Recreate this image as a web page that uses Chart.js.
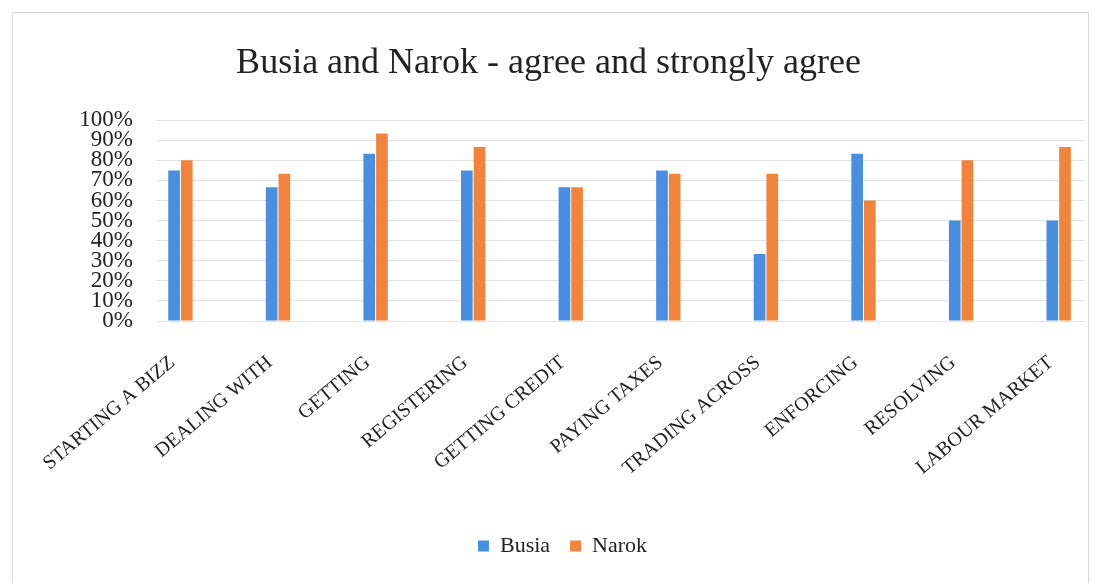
<!DOCTYPE html>
<html>
<head>
<meta charset="utf-8">
<script src="https://cdn.jsdelivr.net/npm/chart.js@4.4.1/dist/chart.umd.min.js"></script>
<style>
  html, body { margin: 0; padding: 0; background: #fff; }
  #wrap { position: relative; width: 1099px; height: 583px; overflow: hidden; }
  #frame { position: absolute; left: 12px; top: 12px; width: 1077px; height: 600px;
           border: 1px solid #d8d8d8; box-sizing: border-box; pointer-events: none; }
  canvas { position: absolute; left: 0; top: 0; }
</style>
</head>
<body>
<div id="wrap">
  <canvas id="c" width="1099" height="583"></canvas>
  <div id="frame"></div>
</div>
<script>
// Survey categories and share answering "agree" or "strongly agree"
const categories = ['STARTING A BIZZ', 'DEALING WITH', 'GETTING', 'REGISTERING', 'GETTING CREDIT',
                    'PAYING TAXES', 'TRADING ACROSS', 'ENFORCING', 'RESOLVING', 'LABOUR MARKET'];
const busia = [0.75, 0.6667, 0.8333, 0.75, 0.6667, 0.75, 0.3333, 0.8333, 0.50, 0.50];
const narok = [0.80, 0.7333, 0.9333, 0.8667, 0.6667, 0.7333, 0.7333, 0.60, 0.80, 0.8667];
const yTicks = [0, 0.1, 0.2, 0.3, 0.4, 0.5, 0.6, 0.7, 0.8, 0.9, 1.0];

const serif = "'Liberation Serif', 'Times New Roman', serif";
const toPoints = arr => arr.map((v, i) => ({ x: i, y: v }));

// Nudge the legend block a little right of centre, under the plot
const legendShift = {
  id: 'legendShift',
  afterLayout(chart) {
    const lg = chart.legend;
    if (lg) { lg.left += 14; lg.right += 14; }
  }
};

new Chart(document.getElementById('c'), {
  type: 'bar',
  data: {
    datasets: [
      { label: 'Busia', data: toPoints(busia), backgroundColor: '#4a8ee0',
        categoryPercentage: 0.26, barPercentage: 0.92 },
      { label: 'Narok', data: toPoints(narok), backgroundColor: '#f0843f',
        categoryPercentage: 0.26, barPercentage: 0.92 }
    ]
  },
  plugins: [legendShift],
  options: {
    responsive: false,
    animation: false,
    layout: { padding: { left: 12, right: 14, top: 0, bottom: 16 } },
    plugins: {
      title: {
        display: true,
        text: 'Busia and Narok - agree and strongly agree',
        color: '#222',
        font: { family: serif, size: 36, weight: 'normal' },
        padding: { top: 42, bottom: 35 }
      },
      legend: {
        position: 'bottom',
        labels: {
          color: '#222',
          font: { family: serif, size: 22 },
          boxWidth: 11, boxHeight: 11, padding: 20
        }
      },
      tooltip: { enabled: false }
    },
    scales: {
      x: {
        type: 'linear',
        offset: false,
        min: -0.24, max: 9.27,
        grid: { display: false, offset: false },
        border: { display: false },
        afterBuildTicks: s => { s.ticks = categories.map((_, i) => ({ value: i })); },
        afterFit: s => { s.height = 194; },
        ticks: {
          color: '#222',
          font: { family: serif, size: 20 },
          minRotation: 40, maxRotation: 40,
          padding: 22,
          labelOffset: -8,
          autoSkip: false,
          callback: v => categories[v]
        }
      },
      y: {
        min: 0, max: 1,
        afterBuildTicks: s => { s.ticks = yTicks.map(v => ({ value: v })); },
        afterFit: s => { s.width = 145; },
        grid: { color: '#e2e2e2', drawTicks: false },
        border: { display: false },
        ticks: {
          color: '#222',
          font: { family: serif, size: 23, lineHeight: 0.9 },
          padding: 24,
          autoSkip: false,
          callback: v => Math.round(v * 100) + '%'
        }
      }
    }
  }
});
</script>
</body>
</html>
